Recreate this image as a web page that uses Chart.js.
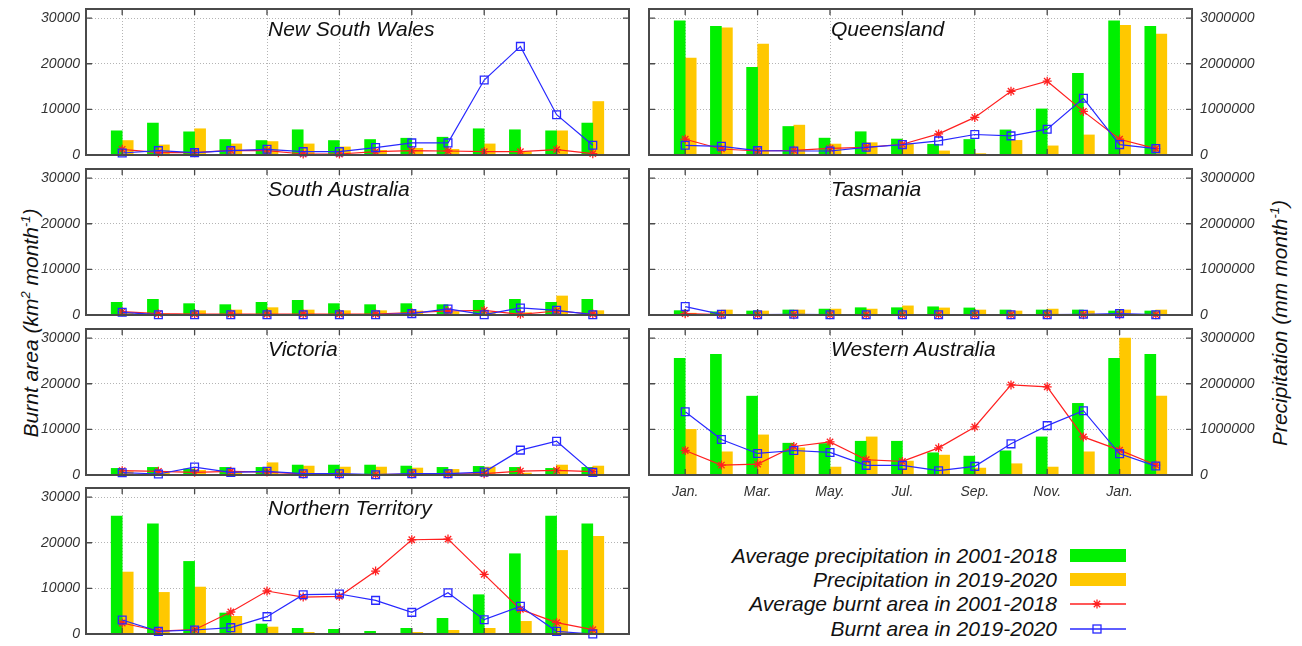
<!DOCTYPE html>
<html>
<head>
<meta charset="utf-8">
<script src="https://cdn.jsdelivr.net/npm/chart.js@4.4.1/dist/chart.umd.min.js"></script>
<style>
  html, body { margin: 0; padding: 0; background: #fff; }
  #page { position: relative; width: 1302px; height: 646px; overflow: hidden;
          font-family: "Liberation Sans", Arial, sans-serif; font-style: italic; color: #111; }
  #page canvas { position: absolute; }
  .ptitle { position: absolute; font-size: 21px; line-height: 22px; white-space: nowrap; }
  .axtitle { position: absolute; font-size: 21px; line-height: 24px; white-space: nowrap;
             transform: translate(-50%, -50%) rotate(-90deg); }
  .axtitle sup { font-size: 13px; }
  .lrow { position: absolute; left: 0; width: 1302px; height: 24px; }
  .ltext { position: absolute; right: 245px; top: 0; font-size: 21px; line-height: 24px; white-space: nowrap; }
  .lrow svg { position: absolute; left: 1070px; top: 0; }
</style>
</head>
<body>
<div id="page">
  <div class="axtitle" style="left:28px; top:323px;">Burnt area (km<sup>2</sup> month<sup>-1</sup>)</div>
  <div class="axtitle" style="left:1277px; top:323px;">Precipitation (mm month<sup>-1</sup>)</div>
  <div id="legend"></div>
</div>
<script>
// months Jan 2019 .. Feb 2020, placed at x = 0..13
const MONTHS = ['Jan 2019', 'Feb 2019', 'Mar 2019', 'Apr 2019', 'May 2019', 'Jun 2019', 'Jul 2019',
                'Aug 2019', 'Sep 2019', 'Oct 2019', 'Nov 2019', 'Dec 2019', 'Jan 2020', 'Feb 2020'];
const TICK_MONTHS = [0, 2, 4, 6, 8, 10, 12];
const TICK_LABELS = ['Jan.', 'Mar.', 'May.', 'Jul.', 'Sep.', 'Nov.', 'Jan.'];
const BURNT_TICKS = [0, 10000, 20000, 30000];
const PRECIP_TICKS = [0, 1000000, 2000000, 3000000];

// precipitation (mm month-1) and burnt area (km2 month-1)
const nswAvgPrecip = [530000, 700000, 508000, 339000, 317000, 553000, 317000, 339000, 368000, 390000, 575000, 553000, 530000, 700000];
const nswPrecip    = [317000, 221000, 575000, 243000, 295000, 243000, 177000, 103000, 147000, 125000, 243000, 70000, 530000, 1172000];
const nswAvgBurnt  = [1250, 520, 520, 1030, 960, 220, 220, 740, 960, 880, 740, 740, 1180, 300];
const nswBurnt     = [440, 960, 520, 960, 1250, 740, 740, 1620, 2650, 2650, 16430, 23800, 8840, 2140];

const qldAvgPrecip = [2940000, 2820000, 1920000, 625000, 370000, 510000, 350000, 235000, 340000, 550000, 1010000, 1790000, 2940000, 2820000];
const qldPrecip    = [2125000, 2790000, 2430000, 655000, 240000, 270000, 250000, 90000, 30000, 320000, 200000, 440000, 2840000, 2650000];
const qldAvgBurnt  = [3460, 1320, 880, 1030, 1470, 1690, 2350, 4630, 8240, 13970, 16180, 9560, 3460, 1400];
const qldBurnt     = [2130, 1910, 960, 880, 880, 1690, 2280, 3090, 4490, 4190, 5660, 12430, 2280, 1400];

const saAvgPrecip = [278000, 344000, 249000, 227000, 278000, 322000, 249000, 227000, 249000, 227000, 322000, 344000, 278000, 344000];
const saPrecip    = [44000, 30000, 95000, 110000, 161000, 110000, 95000, 95000, 88000, 73000, 59000, 51000, 417000, 95000];
const saAvgBurnt  = [730, 300, 220, 220, 220, 220, 220, 220, 510, 880, 1020, 150, 880, 220];
const saBurnt     = [590, 70, 70, 70, 70, 70, 70, 70, 300, 1320, 70, 1540, 1020, 70];

const tasAvgPrecip = [96000, 70000, 88000, 110000, 130000, 160000, 160000, 180000, 155000, 110000, 110000, 110000, 88000, 88000];
const tasPrecip    = [40000, 110000, 88000, 110000, 130000, 130000, 200000, 155000, 110000, 88000, 130000, 88000, 110000, 110000];
const tasAvgBurnt  = [300, 70, 70, 70, 70, 70, 70, 70, 70, 70, 70, 70, 70, 70];
const tasBurnt     = [1840, 150, 70, 150, 70, 70, 70, 70, 70, 70, 70, 150, 300, 70];

const vicAvgPrecip = [145000, 167000, 131000, 167000, 167000, 218000, 218000, 218000, 196000, 167000, 189000, 167000, 145000, 167000];
const vicPrecip    = [73000, 73000, 102000, 73000, 269000, 196000, 174000, 174000, 153000, 123000, 174000, 44000, 218000, 196000];
const vicAvgBurnt  = [940, 800, 580, 800, 650, 220, 70, 70, 220, 220, 290, 870, 1020, 730];
const vicBurnt     = [510, 220, 1740, 580, 800, 290, 290, 70, 290, 290, 650, 5450, 7410, 580];

const waAvgPrecip = [2556000, 2643000, 1728000, 697000, 690000, 740000, 740000, 487000, 414000, 530000, 835000, 1570000, 2556000, 2643000];
const waPrecip    = [1000000, 508000, 879000, 595000, 174000, 835000, 305000, 436000, 152000, 247000, 174000, 508000, 3000000, 1728000];
const waAvgBurnt  = [5370, 2180, 2400, 6250, 7260, 3340, 2980, 5950, 10530, 19750, 19320, 8350, 5450, 2180];
const waBurnt     = [13870, 7770, 4720, 5370, 4940, 2110, 2110, 940, 1890, 6830, 10820, 14090, 4650, 1960];

const ntAvgPrecip = [2584000, 2416000, 1591000, 460000, 219000, 124000, 102000, 58000, 124000, 343000, 861000, 1759000, 2584000, 2416000];
const ntPrecip    = [1358000, 912000, 1029000, 387000, 153000, 36000, 0, 0, 36000, 80000, 124000, 277000, 1832000, 2139000];
const ntAvgBurnt  = [2410, 660, 950, 4820, 9420, 8100, 8250, 13800, 20660, 20800, 13070, 5400, 2480, 950];
const ntBurnt     = [3070, 580, 880, 1390, 3800, 8610, 8760, 7370, 4740, 9050, 3140, 6060, 580, 0];

const SERIES_NAMES = ['Average precipitation in 2001-2018', 'Precipitation in 2019-2020',
                      'Average burnt area in 2001-2018', 'Burnt area in 2019-2020'];

const GREEN = '#00f000';
const ORANGE = '#ffc800';
const RED = '#ff2020';
const BLUE = '#2828ff';
const FRAME_COLOR = '#4a4a4a';
const GRID_COLOR = '#b4b4b4';
const TICK_FONT = { family: '"Liberation Sans", Arial, sans-serif', size: 14, style: 'italic' };

const COL_X = [86, 649];
const ROW_Y = [9, 169, 329, 488];
const FRAME_W = 543;
const FRAME_H = 146;
const PAD_TOP = 10;

const REGIONS = [
  { name: 'New South Wales', col: 0, row: 0, avgPrecip: nswAvgPrecip, precip: nswPrecip, avgBurnt: nswAvgBurnt, burnt: nswBurnt },
  { name: 'South Australia', col: 0, row: 1, avgPrecip: saAvgPrecip, precip: saPrecip, avgBurnt: saAvgBurnt, burnt: saBurnt },
  { name: 'Victoria', col: 0, row: 2, avgPrecip: vicAvgPrecip, precip: vicPrecip, avgBurnt: vicAvgBurnt, burnt: vicBurnt },
  { name: 'Northern Territory', col: 0, row: 3, avgPrecip: ntAvgPrecip, precip: ntPrecip, avgBurnt: ntAvgBurnt, burnt: ntBurnt },
  { name: 'Queensland', col: 1, row: 0, avgPrecip: qldAvgPrecip, precip: qldPrecip, avgBurnt: qldAvgBurnt, burnt: qldBurnt },
  { name: 'Tasmania', col: 1, row: 1, avgPrecip: tasAvgPrecip, precip: tasPrecip, avgBurnt: tasAvgBurnt, burnt: tasBurnt },
  { name: 'Western Australia', col: 1, row: 2, avgPrecip: waAvgPrecip, precip: waPrecip, avgBurnt: waAvgBurnt, burnt: waBurnt, xLabels: true }
];

function toXY(values) {
  return values.map((v, i) => ({ x: i, y: v }));
}

// gnuplot style frame with inward tics on all four sides
const framePlugin = {
  id: 'frame',
  afterDatasetsDraw(chart) {
    const { ctx, chartArea: a, scales } = chart;
    ctx.save();
    ctx.strokeStyle = FRAME_COLOR;
    ctx.lineWidth = 1.3;
    ctx.beginPath();
    scales.yB.ticks.forEach(t => {
      const y = scales.yB.getPixelForValue(t.value);
      ctx.moveTo(a.left, y); ctx.lineTo(a.left + 6, y);
      ctx.moveTo(a.right, y); ctx.lineTo(a.right - 6, y);
    });
    scales.x.ticks.forEach(t => {
      const x = scales.x.getPixelForValue(t.value);
      ctx.moveTo(x, a.top); ctx.lineTo(x, a.top + 6);
      ctx.moveTo(x, a.bottom); ctx.lineTo(x, a.bottom - 6);
    });
    ctx.stroke();
    ctx.lineWidth = 2;
    ctx.strokeRect(a.left, a.top, a.right - a.left, a.bottom - a.top);
    ctx.restore();
  }
};

function fixedSize(size, horizontal) {
  return (scale) => {
    if (horizontal) scale.height = size; else scale.width = size;
    scale.paddingTop = 0; scale.paddingBottom = 0;
    scale.paddingLeft = 0; scale.paddingRight = 0;
  };
}

const page = document.getElementById('page');

REGIONS.forEach(r => {
  const frameX = COL_X[r.col];
  const frameY = ROW_Y[r.row];
  const leftW = r.col === 0 ? 80 : 12;
  const rightW = r.col === 0 ? 12 : 72;
  const bottomH = r.xLabels ? 34 : 10;

  const canvas = document.createElement('canvas');
  canvas.width = leftW + FRAME_W + rightW;
  canvas.height = PAD_TOP + FRAME_H + bottomH;
  canvas.style.left = (frameX - leftW) + 'px';
  canvas.style.top = (frameY - PAD_TOP) + 'px';
  page.appendChild(canvas);

  new Chart(canvas.getContext('2d'), {
    type: 'bar',
    data: {
      datasets: [
        {
          type: 'line', label: SERIES_NAMES[3], data: toXY(r.burnt), yAxisID: 'yB', order: 1,
          borderColor: BLUE, borderWidth: 1.2, tension: 0,
          pointStyle: 'rect', pointRadius: 5.5, pointBorderWidth: 1.3,
          pointBorderColor: BLUE, pointBackgroundColor: 'rgba(0,0,0,0)', clip: 12
        },
        {
          type: 'line', label: SERIES_NAMES[2], data: toXY(r.avgBurnt), yAxisID: 'yB', order: 2,
          borderColor: RED, borderWidth: 1.2, tension: 0,
          pointStyle: 'star', pointRadius: 4.5, pointBorderWidth: 1.3,
          pointBorderColor: RED, pointBackgroundColor: RED, clip: 12
        },
        {
          type: 'bar', label: SERIES_NAMES[0], data: toXY(r.avgPrecip), yAxisID: 'yP', order: 3,
          backgroundColor: GREEN, borderWidth: 0, barThickness: 11
        },
        {
          type: 'bar', label: SERIES_NAMES[1], data: toXY(r.precip), yAxisID: 'yP', order: 3,
          backgroundColor: ORANGE, borderWidth: 0, barThickness: 11
        }
      ]
    },
    options: {
      responsive: false,
      animation: false,
      events: [],
      layout: { padding: { top: PAD_TOP, left: 0, right: 0, bottom: 0 } },
      plugins: { legend: { display: false }, tooltip: { enabled: false } },
      scales: {
        x: {
          type: 'linear', min: -1, max: 14, offset: false,
          grid: { offset: false, color: GRID_COLOR, lineWidth: 1, drawTicks: false },
          border: { display: false, dash: [1, 2] },
          afterBuildTicks: s => { s.ticks = TICK_MONTHS.map(v => ({ value: v })); },
          afterFit: fixedSize(bottomH, true),
          ticks: {
            display: !!r.xLabels, autoSkip: false, maxRotation: 0, padding: 9,
            color: '#333', font: TICK_FONT,
            callback: v => TICK_LABELS[TICK_MONTHS.indexOf(v)]
          }
        },
        yB: {
          type: 'linear', position: 'left', min: 0, max: 32000,
          grid: { color: GRID_COLOR, lineWidth: 1, drawTicks: false },
          border: { display: false, dash: [1, 2] },
          afterBuildTicks: s => { s.ticks = BURNT_TICKS.map(v => ({ value: v })); },
          afterFit: fixedSize(leftW, false),
          ticks: { display: r.col === 0, padding: 6, color: '#333', font: TICK_FONT, callback: v => String(v) }
        },
        yP: {
          type: 'linear', position: 'right', min: 0, max: 3200000,
          grid: { display: false, drawTicks: false },
          border: { display: false },
          afterBuildTicks: s => { s.ticks = PRECIP_TICKS.map(v => ({ value: v })); },
          afterFit: fixedSize(rightW, false),
          ticks: { display: r.col === 1, padding: 8, color: '#333', font: TICK_FONT, callback: v => String(v) }
        }
      }
    },
    plugins: [framePlugin]
  });

  const title = document.createElement('div');
  title.className = 'ptitle';
  title.textContent = r.name;
  title.style.left = (frameX + 182) + 'px';
  title.style.top = (frameY + 9) + 'px';
  page.appendChild(title);
});

// legend: text right-aligned, swatch on the right
const LEGEND_Y = [544, 568, 592, 617];
const legend = document.getElementById('legend');
const swatches = [
  `<rect x="0" y="5" width="56" height="13" fill="${GREEN}"/>`,
  `<rect x="0" y="5" width="56" height="13" fill="${ORANGE}"/>`,
  `<line x1="0" y1="12" x2="56" y2="12" stroke="${RED}" stroke-width="1.3"/>` +
    `<path d="M22.5 12H31.5M27 7.5V16.5M23.8 8.8L30.2 15.2M30.2 8.8L23.8 15.2" stroke="${RED}" stroke-width="1.3"/>`,
  `<line x1="0" y1="12" x2="56" y2="12" stroke="${BLUE}" stroke-width="1.3"/>` +
    `<rect x="23" y="8" width="8" height="8" fill="none" stroke="${BLUE}" stroke-width="1.3"/>`
];
SERIES_NAMES.forEach((name, i) => {
  const row = document.createElement('div');
  row.className = 'lrow';
  row.style.top = LEGEND_Y[i] + 'px';
  row.innerHTML = `<span class="ltext">${name}</span>` +
    `<svg width="56" height="24" viewBox="0 0 56 24">${swatches[i]}</svg>`;
  legend.appendChild(row);
});
</script>
</body>
</html>
